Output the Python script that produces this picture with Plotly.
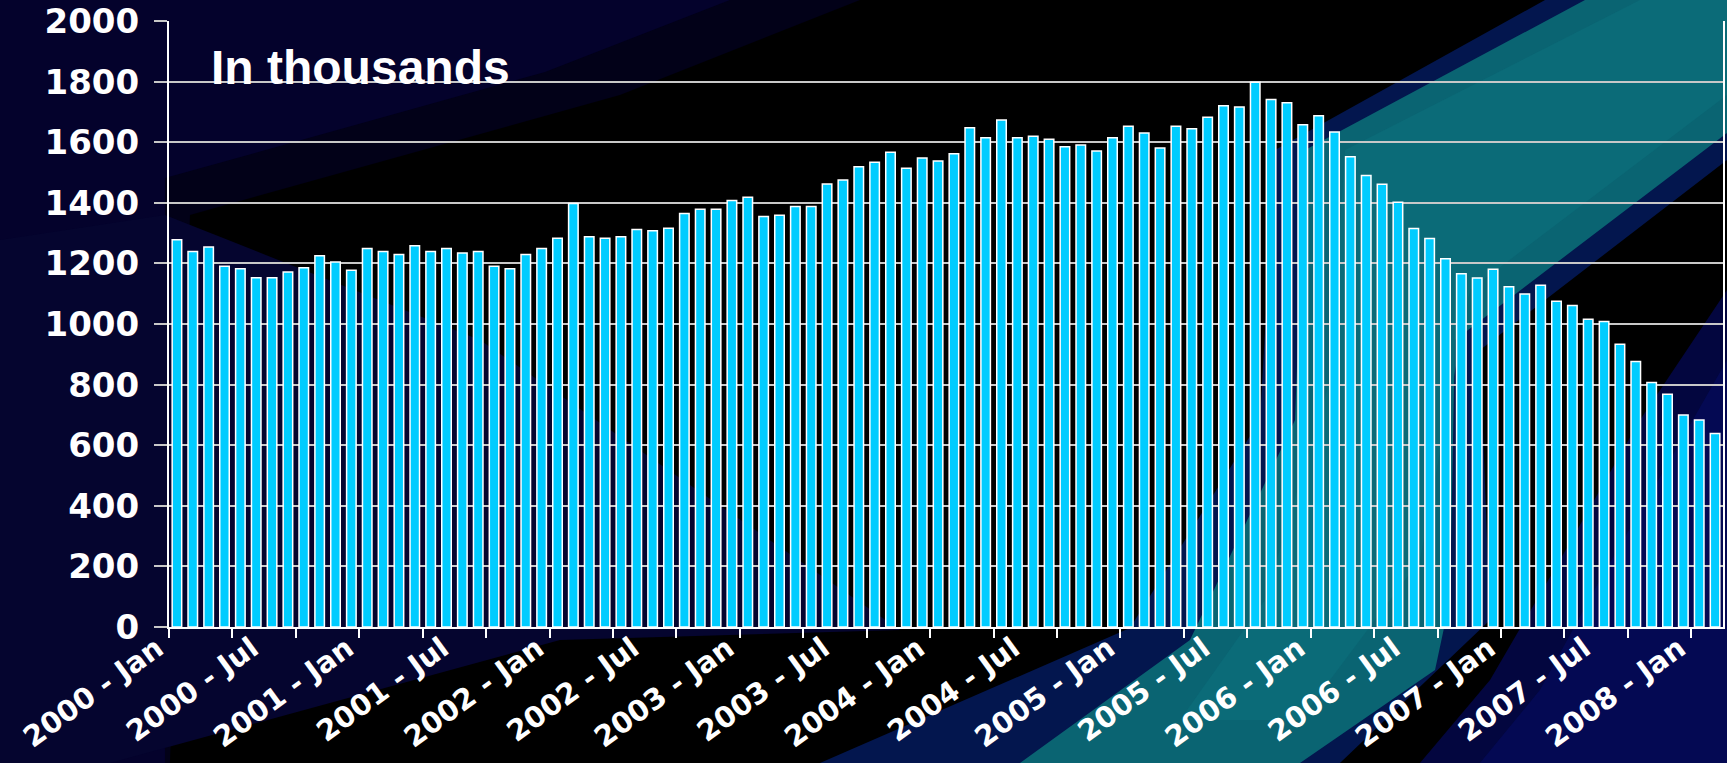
import plotly.graph_objects as go

# ---------------- data ----------------
years = [2000, 2001, 2002, 2003, 2004, 2005, 2006, 2007, 2008]
month_names = ["Jan", "Feb", "Mar", "Apr", "May", "Jun",
               "Jul", "Aug", "Sep", "Oct", "Nov", "Dec"]
months = [f"{y} - {m}" for y in years for m in month_names][:98]

values = [
    1278, 1239, 1254, 1191, 1182, 1153, 1153, 1172, 1186, 1225,
    1205, 1177, 1249, 1239, 1229, 1258, 1239, 1249, 1234, 1239,
    1191, 1182, 1229, 1249, 1283, 1398, 1288, 1283, 1288, 1312,
    1308, 1316, 1365, 1379, 1379, 1408, 1418, 1355, 1359, 1388,
    1388, 1462, 1475, 1519, 1534, 1567, 1514, 1548, 1538, 1562,
    1648, 1615, 1673, 1615, 1620, 1610, 1585, 1591, 1571, 1615,
    1653, 1630, 1581, 1653, 1644, 1682, 1720, 1716, 1798, 1741,
    1730, 1658, 1687, 1634, 1552, 1490, 1461, 1402, 1315, 1282,
    1215, 1166, 1152, 1181, 1123, 1099, 1128, 1075, 1061, 1016,
    1008, 933, 876, 807, 768, 700, 683, 639,
]

label_step = 6
tick_labels = months[::label_step]
y_ticks = list(range(0, 2001, 200))

# ---------------- layout geometry ----------------
W, H = 1727, 763
L, R, T, B = 169, 4, 21, 136
PW, PH = W - L - R, H - T - B


def px(X, Y):
    return (X - L) / PW, (H - B - Y) / PH


def poly(points, color, opacity=1.0):
    pts = [px(X, Y) for X, Y in points]
    d = "M " + " L ".join(f"{a:.4f},{b:.4f}" for a, b in pts) + " Z"
    return dict(type="path", xref="paper", yref="paper", path=d,
                fillcolor=color, opacity=opacity, line=dict(width=0),
                layer="below")


shapes = [
    # navy top-left + left column (soft edge, then core)
    poly([(0, 0), (860, 0), (620, 95), (190, 215), (170, 763), (0, 763)],
         "#020118", 1.0),
    poly([(0, 0), (730, 0), (545, 72), (165, 178), (165, 763), (0, 763)],
         "#04022c", 1.0),
    # navy lower-left
    poly([(0, 240), (165, 215), (480, 340), (900, 630), (560, 640),
          (110, 763), (0, 763)], "#05052f", 1.0),
    # outer blue glow of beam
    poly([(1545, 0), (1727, 0), (1727, 160), (1480, 350), (1490, 620),
          (1340, 763), (820, 763), (1130, 628), (1260, 420), (1275, 150)],
         "#03164e", 1.0),
    # teal beam core
    poly([(1585, 0), (1727, 0), (1727, 133), (1455, 340), (1450, 600),
          (1435, 670), (1300, 763), (1020, 763), (1190, 640), (1295, 420),
          (1305, 150)],
         "#0a6472", 1.0),
    poly([(1640, 0), (1727, 0), (1727, 95), (1470, 290), (1420, 560),
          (1300, 720), (1180, 720), (1265, 600), (1330, 380), (1345, 150)],
         "#0c6e7a", 0.7),
    # navy bottom-right streak
    poly([(1727, 290), (1727, 763), (1420, 763), (1490, 680),
          (1560, 560), (1640, 420)], "#03063f", 1.0),
    poly([(1727, 360), (1727, 763), (1480, 763), (1540, 690),
          (1600, 580), (1670, 460)], "#040a55", 0.9),
]

fig = go.Figure()
fig.add_trace(go.Bar(
    x=list(range(len(values))),
    y=values,
    customdata=months,
    hovertemplate="%{customdata}: %{y}<extra></extra>",
    marker=dict(color="#00CCFF", line=dict(color="#FFFFFF", width=1.5)),
))

fig.update_layout(
    width=W, height=H, autosize=False,
    margin=dict(l=L, r=R, t=T, b=B, pad=0),
    paper_bgcolor="#000000",
    plot_bgcolor="rgba(0,0,0,0)",
    bargap=0.4,
    showlegend=False,
    shapes=shapes,
    xaxis=dict(
        range=[-0.5, len(values) - 0.5],
        automargin=False,
        tickmode="array",
        tickvals=list(range(0, len(values), label_step)),
        ticktext=tick_labels,
        ticks="",
        tickangle=-36,
        tickfont=dict(family="DejaVu Sans", size=29, color="white", weight="bold"),
        ticklabelshift=-20,
        ticklabelstandoff=-9,
        showline=True, linecolor="#FFFFFF", linewidth=2,
        showgrid=False, zeroline=False,
        minor=dict(tickmode="array",
                   tickvals=[i - 0.5 for i in range(0, len(values), 4)],
                   ticks="outside", ticklen=9, tickwidth=2,
                   tickcolor="#FFFFFF", showgrid=False),
    ),
    yaxis=dict(
        range=[0, 2000],
        automargin=False,
        tickmode="array",
        tickvals=y_ticks,
        ticks="outside", ticklen=13, tickwidth=2, tickcolor="#C8C8C8",
        tickfont=dict(family="DejaVu Sans", size=34, color="white", weight="bold"),
        ticklabelstandoff=8,
        showgrid=True, gridcolor="#C8C8C8", gridwidth=2,
        showline=True, linecolor="#FFFFFF", linewidth=2, mirror=True,
        zeroline=False,
    ),
    annotations=[dict(
        text="In thousands", xref="paper", yref="y",
        x=(209 - L) / PW, y=1846, xanchor="left", yanchor="middle",
        showarrow=False,
        font=dict(family="Liberation Sans", size=48, color="white", weight="bold"),
    )],
)

fig.write_html("out.html")
